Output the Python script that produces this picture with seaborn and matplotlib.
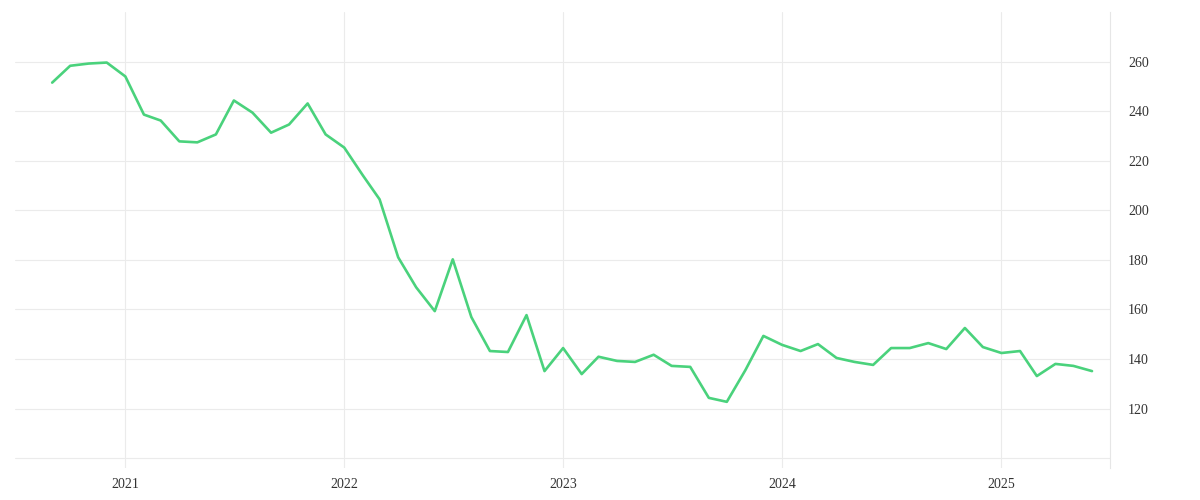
import seaborn as sns
import matplotlib.pyplot as plt
import matplotlib.dates as mdates
import pandas as pd

# Monthly values, Sep 2020 - Jun 2025
months = pd.date_range("2020-09-01", "2025-06-01", freq="MS")
values = [
    251.5, 258.3, 259.2, 259.6,                     # 2020
    254.0, 238.6, 236.2, 227.8, 227.4, 230.6,
    244.3, 239.4, 231.3, 234.6, 243.1, 230.6,       # 2021
    225.3, 214.1, 204.4, 181.0, 168.9, 159.3,
    180.2, 156.9, 143.2, 142.8, 157.7, 135.1,       # 2022
    144.4, 133.9, 140.9, 139.2, 138.8, 141.7,
    137.2, 136.8, 124.3, 122.7, 135.5, 149.3,       # 2023
    145.7, 143.2, 146.0, 140.4, 138.8, 137.6,
    144.4, 144.4, 146.4, 144.0, 152.5, 144.8,       # 2024
    142.4, 143.2, 133.1, 138.0, 137.2, 135.1,       # 2025
]
year_ticks = pd.to_datetime(["2021-01-01", "2022-01-01", "2023-01-01", "2024-01-01", "2025-01-01"])
year_labels = ["2021", "2022", "2023", "2024", "2025"]
y_ticks = [100, 120, 140, 160, 180, 200, 220, 240, 260]
y_labels = ["", "120", "140", "160", "180", "200", "220", "240", "260"]

df = pd.DataFrame({"month": months, "value": values})

sns.set_style("white")
plt.rcParams["font.family"] = ["Liberation Serif", "DejaVu Serif"]

fig = plt.figure(figsize=(12, 5), dpi=100)
ax = fig.add_axes([0.0125, 0.064, 0.9125, 0.912])

sns.lineplot(data=df, x="month", y="value", color="#4ad27c", linewidth=1.9, ax=ax)

ax.set_xlim(pd.Timestamp("2020-07-01"), pd.Timestamp("2025-07-01"))
ax.set_ylim(96, 280)
ax.set_xticks(year_ticks)
ax.set_xticklabels(year_labels)
ax.set_yticks(y_ticks)
ax.set_yticklabels(y_labels)
ax.yaxis.tick_right()
ax.set_xlabel("")
ax.set_ylabel("")

ax.grid(True, color="#ebebeb", linewidth=0.8)
ax.set_axisbelow(True)
for side in ["top", "left", "bottom"]:
    ax.spines[side].set_visible(False)
ax.spines["right"].set_color("#e6e6e6")
ax.spines["right"].set_linewidth(0.8)
ax.tick_params(axis="both", length=0, labelsize=10, colors="#333333")
ax.tick_params(axis="y", pad=13)
ax.tick_params(axis="x", pad=7)

fig.savefig("out.png", dpi=100)
